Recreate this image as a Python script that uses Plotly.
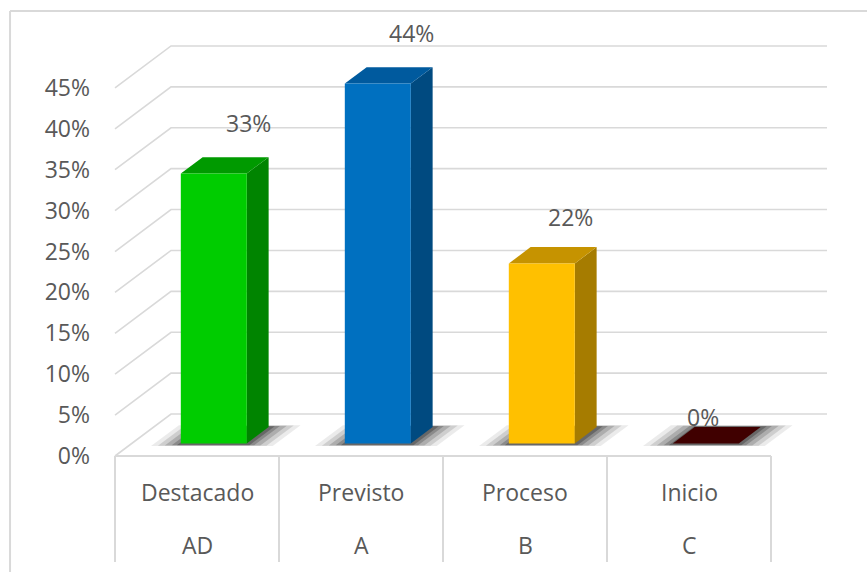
import plotly.graph_objects as go

# ---------------- data ----------------
categories = ["Destacado", "Previsto", "Proceso", "Inicio"]
levels = ["AD", "A", "B", "C"]
values = [33, 44, 22, 0]
tick_values = [0, 5, 10, 15, 20, 25, 30, 35, 40, 45]

# ---------------- styles ----------------
front_colors = ["#00cc00", "#0070c0", "#ffc000", "#3f0000"]
side_colors = ["#008400", "#004a80", "#a67c00", "#2a0000"]
top_colors = ["#009a00", "#005a9e", "#c69300", "#400000"]
grid_color = "#d9d9d9"
text_color = "#595959"
FONT = "Open Sans"

# pseudo-3D geometry, in axis units
DX = 0.3415     # depth offset in category units
DY = 5.13       # depth offset in percent units
T0 = 0.30       # bar front plane (fraction of depth)
TB = 0.39       # bar depth (fraction of depth)
BW = 0.4024     # bar width in category units
n = len(categories)
X0, X1 = -0.5, n - 0.5

fig = go.Figure()

# back wall gridlines with their left diagonals
gx, gy = [], []
for v in tick_values:
    gx += [X0, X0 + DX, X1 + DX, None]
    gy += [v, v + DY, v + DY, None]
fig.add_trace(go.Scatter(x=gx, y=gy, mode="lines",
                         line=dict(color=grid_color, width=1.6),
                         hoverinfo="skip", showlegend=False))

# category table below the floor
cx, cy = [X0, X1, None], [0, 0, None]
for k in range(n + 1):
    cx += [X0 + k, X0 + k, None]
    cy += [0, -12.96, None]
fig.add_trace(go.Scatter(x=cx, y=cy, mode="lines",
                         line=dict(color=grid_color, width=2),
                         hoverinfo="skip", showlegend=False))

# soft shadows on the floor
for i, v in enumerate(values):
    c = i
    for e, op in [(0.16, 0.08), (0.12, 0.12), (0.08, 0.16),
                  (0.04, 0.20), (0.01, 0.25)]:
        ta = T0 - 0.04 - e * 0.15
        tb = T0 + TB + 0.02 + e * 0.15
        xl = c - BW / 2 - e
        xr = c + BW / 2 + e + 0.02
        sx = [xl + ta * DX, xr + ta * DX, xr + tb * DX, xl + tb * DX, xl + ta * DX]
        sy = [ta * DY, ta * DY, tb * DY, tb * DY, ta * DY]
        fig.add_trace(go.Scatter(x=sx, y=sy, mode="lines", fill="toself",
                                 fillcolor=f"rgba(0,0,0,{op})",
                                 line=dict(width=0), hoverinfo="skip",
                                 showlegend=False))

# bars: side, top, front
for i, v in enumerate(values):
    xl = i - BW / 2 + T0 * DX
    xr = i + BW / 2 + T0 * DX
    yb = T0 * DY
    yt = v + T0 * DY
    ox, oy = TB * DX, TB * DY
    if v > 0:
        fig.add_trace(go.Scatter(
            x=[xr, xr + ox, xr + ox, xr, xr], y=[yb, yb + oy, yt + oy, yt, yb],
            mode="lines", fill="toself", fillcolor=side_colors[i],
            line=dict(width=0), hoverinfo="skip", showlegend=False))
    fig.add_trace(go.Scatter(
        x=[xl, xr, xr + ox, xl + ox, xl], y=[yt, yt, yt + oy, yt + oy, yt],
        mode="lines", fill="toself", fillcolor=top_colors[i],
        line=dict(width=0), hoverinfo="skip", showlegend=False))
    if v > 0:
        fig.add_trace(go.Scatter(
            x=[xl, xr, xr, xl, xl], y=[yb, yb, yt, yt, yb],
            mode="lines", fill="toself", fillcolor=front_colors[i],
            line=dict(width=0), hoverinfo="skip", showlegend=False,
            name=categories[i]))

annotations = []
# data labels
for i, v in enumerate(values):
    annotations.append(dict(
        x=i + 0.085 + 0.0125 * v - 0.00017 * v * v,
        y=v + 4.77 + 0.155 * v - 0.002 * v * v,
        text=f"{v}%", showarrow=False,
        font=dict(family=FONT, size=23, color=text_color)))
# category labels
for i, (c, l) in enumerate(zip(categories, levels)):
    annotations.append(dict(x=i, y=-4.45, text=c, showarrow=False,
                            font=dict(family=FONT, size=23, color=text_color)))
    annotations.append(dict(x=i, y=-10.9, text=l, showarrow=False,
                            font=dict(family=FONT, size=23, color=text_color)))

fig.update_layout(
    width=867, height=572,
    margin=dict(l=100, r=0, t=0, b=0),
    paper_bgcolor="white", plot_bgcolor="white",
    showlegend=False,
    annotations=annotations,
    shapes=[dict(type="line", xref="paper", yref="paper",
                 x0=-0.1173, y0=0, x1=-0.1173, y1=0.9808,
                 line=dict(color=grid_color, width=2)),
            dict(type="line", xref="paper", yref="paper",
                 x0=-0.1173, y0=0.9808, x1=1.0, y1=0.9808,
                 line=dict(color=grid_color, width=2))],
    xaxis=dict(range=[-0.5915, 4.0854], visible=False, fixedrange=True),
    yaxis=dict(range=[-14.18, 55.75], tickvals=tick_values,
               ticktext=[f"{t}%" for t in tick_values],
               showgrid=False, zeroline=False, showline=False, ticks="",
               ticklabelstandoff=9,
               tickfont=dict(family=FONT, size=23, color=text_color),
               fixedrange=True),
)

fig.write_html("out.html")
